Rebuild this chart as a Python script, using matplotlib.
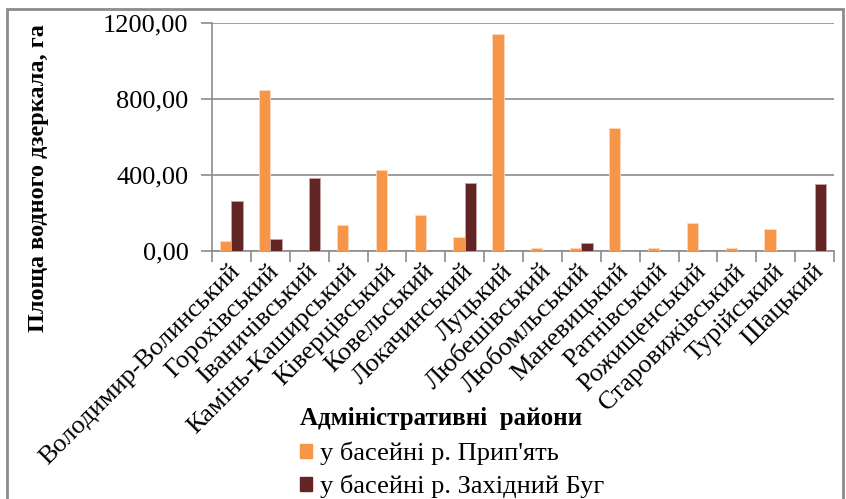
import numpy as np
import matplotlib
matplotlib.use("Agg")
from matplotlib import pyplot as plt
from matplotlib.patches import Rectangle, Patch

plt.rcParams['font.family'] = ['Liberation Serif', 'DejaVu Serif']

# districts of Volyn region
districts = ["Володимир-Волинський", "Горохівський", "Іваничівський",
             "Камінь-Каширський", "Ківерцівський", "Ковельський",
             "Локачинський", "Луцький", "Любешівський", "Любомльський",
             "Маневицький", "Ратнівський", "Рожищенський",
             "Старовижівський", "Турійський", "Шацький"]
prypiat = [55, 848, 0, 139, 428, 192, 74, 1143, 16, 16, 646, 16, 147, 16, 114, 0]
zakh_bug = [265, 62, 382, 0, 0, 0, 358, 0, 0, 42, 0, 0, 0, 0, 0, 350]
yticks = [0, 400, 800, 1200]

ser_names = ["у басейні р. Прип'ять", "у басейні р. Західний Буг"]
col_or = "#F79646"
col_dr = "#632523"

fig = plt.figure(figsize=(8.46, 4.99), dpi=100)
ax = fig.add_axes([212/846, 1-251/499, (834-212)/846, (251-23)/499])

x = np.arange(len(districts))
w = 0.29
ax.bar(x - w/2, prypiat, w, color=col_or, edgecolor="#fcd9bf", linewidth=0.6, zorder=3)
ax.bar(x + w/2, zakh_bug, w, color=col_dr, edgecolor="#c9a3a2", linewidth=0.6, zorder=3)

ax.set_xlim(-0.5, len(districts) - 0.5)
ax.set_ylim(0, 1200)
ax.set_yticks(yticks)
ax.set_yticklabels([("%.2f" % v).replace(".", ",") for v in yticks], fontsize=19)
ax.yaxis.grid(True, color="#8c8c8c", linewidth=1.2, zorder=0)

# category boundaries as ticks, labels in the middle
ax.set_xticks(np.arange(len(districts) + 1) - 0.5)
ax.set_xticklabels([])
ax.set_xticks(x, minor=True)
ax.set_xticklabels(districts, minor=True, rotation=45, ha="right",
                   rotation_mode="anchor", fontsize=19, va="center")
ax.tick_params(axis="x", which="minor", length=0, pad=12)
ax.tick_params(axis="x", which="major", length=8, color="#8c8c8c", width=1.2)
ax.tick_params(axis="y", length=8, color="#8c8c8c", width=1.2, pad=9)

# shift category labels a little to the right, as in the source chart
from matplotlib.transforms import ScaledTranslation
for lab in ax.get_xticklabels(minor=True):
    lab.set_transform(lab.get_transform() + ScaledTranslation(5/100, 0, fig.dpi_scale_trans))

for s in ["top", "right"]:
    ax.spines[s].set_visible(False)
for s in ["left", "bottom"]:
    ax.spines[s].set_color("#8c8c8c")
    ax.spines[s].set_linewidth(1.2)

fig.text(39/846, 1-178/499, "Площа водного дзеркала, га", rotation=90,
         ha="center", va="center", fontsize=17.5, fontweight="bold")
fig.text(441/846, 1-418/499, "Адміністративні  райони", ha="center",
         va="center", fontsize=18, fontweight="bold")

handles = [Patch(color=col_or), Patch(color=col_dr)]
fig.legend(handles, ser_names, loc="center left",
           bbox_to_anchor=(300/846, 1-470/499), frameon=False, fontsize=19,
           handlelength=0.45, handleheight=0.45, handletextpad=0.3,
           labelspacing=0.35, borderpad=0, borderaxespad=0)

fig.patches.append(Rectangle((7/846, -0.05), (843-7)/846, 1.05-9/499,
                             transform=fig.transFigure, fill=False,
                             edgecolor="#8c8c8c", linewidth=2))

fig.savefig("out.png", dpi=100)
